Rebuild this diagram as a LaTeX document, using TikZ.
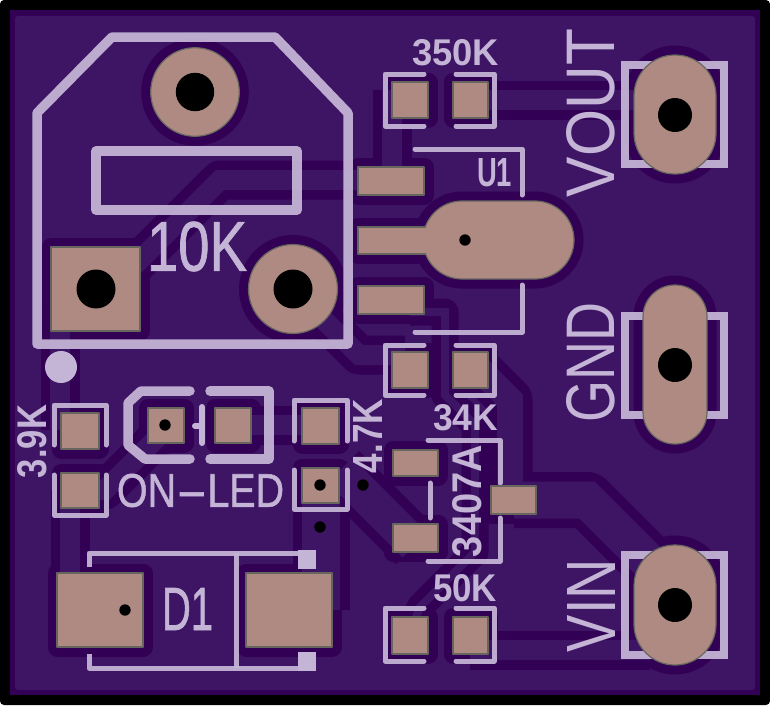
\documentclass[tikz,border=0pt]{standalone}
\usepackage{graphicx}
\usepackage{fontspec}
\setmainfont{Liberation Sans}
\newfontfamily\silkfat[FakeBold=1.2]{Liberation Sans}
\definecolor{dark}{HTML}{320055}
\definecolor{pour}{HTML}{3E1464}
\definecolor{silk}{HTML}{C4B5D6}
\definecolor{padc}{HTML}{AF8A82}
\definecolor{padb}{HTML}{66665F}
\tikzset{
  silkline/.style={draw=silk,line width=5,line cap=round,line join=round,opacity=.94},
  silkthick/.style={draw=silk,line width=9.5,line cap=round,line join=round,opacity=.94},
  silktext/.style={text=silk,inner sep=0pt,outer sep=0pt},
  holemark/.style={fill=black,draw=none},
  padlook/.style={draw=dark,fill=dark,line width=19,line join=round}
}
% a trace: clearance band first, copper afterwards
\newcommand{\tracepath}[2]{\draw[dark,line width=#1+19,line join=round] #2;}
\newcommand{\tracefill}[2]{\draw[pour,line width=#1] #2;}
\newcommand{\alltraces}[1]{%
  #1{20}{(360,180)--(220,180)--(105,295)}
  #1{20}{(60,300)--(60,430)}
  #1{20}{(70,490)--(70,600)}
  #1{20}{(170,425)--(105,490)--(80,490)}
  #1{20}{(240,425)--(320,425)}
  #1{38}{(321,490)--(321,610)}
  #1{35}{(340,470)--(415,545)}
  #1{20}{(293,289)--(359,355)--(405,355)}
  #1{8}{(410,312)--(445,312)--(445,395)--(475,425)--(475,552)--(420,607)--(415,620)}
  #1{20}{(392,90)--(392,175)}
  #1{26}{(470,360)--(510,400)--(510,490)}
  #1{37}{(514,500)--(587,500)--(672,585)}
  #1{20}{(470,650)--(650,650)}
  #1{20}{(470,100)--(650,100)}
}
\newcommand{\padr}[4]{\path[padlook] (#1,#2) rectangle (#3,#4);}
\newcommand{\padround}[3]{\path[padlook] (#1,#2) circle[radius=#3];}
\newcommand{\padlong}[5]{\path[padlook,rounded corners=#5] (#1,#2) rectangle (#3,#4);}
\newcommand{\allpads}{%
  \padround{195}{92}{44.3}
  \padround{293}{289}{44.5}
  \padr{51}{247}{140}{331}
  % U1
  \padr{358}{167}{424}{195}
  \padr{358}{286}{424}{314}
  \padr{358}{227}{430}{254}
  \padlong{423}{201}{574}{279}{39}
  % headers
  \padlong{634}{55}{716}{174}{40.9}
  \padlong{643}{285}{707}{444}{31.9}
  \padlong{634}{545}{716}{665}{40.9}
  % resistors right column
  \padr{392}{82}{428}{118}
  \padr{453}{82}{488}{118}
  \padr{392}{352}{428}{388}
  \padr{453}{352}{488}{388}
  \padr{392}{617}{428}{654}
  \padr{453}{617}{488}{654}
  % 3.9K
  \padr{61}{413}{99}{449}
  \padr{61}{473}{99}{508}
  % LED
  \padr{148}{408}{184}{443}
  \padr{215}{408}{251}{443}
  % 4.7K
  \padr{302}{408}{339}{444}
  \padr{302}{468}{339}{503}
  % D1
  \padr{57}{573}{143}{647}
  \padr{246}{573}{332}{647}
  % 3407A
  \padr{393}{450}{438}{476}
  \padr{393}{524}{438}{552}
  \padr{491}{486}{536}{514}
}
\newcommand{\stxt}[7]{\node[silktext,rotate=#6] (#1) at (#2,#3) {\resizebox{#4pt}{#5pt}{#7}};}
\begin{document}
\begin{tikzpicture}[x=1pt,y=-1pt]
\useasboundingbox (0,0) rectangle (770,705);
\fill[white] (0,0) rectangle (770,705);
\fill[black,rounded corners=4] (0,0) rectangle (770,705);
\fill[dark] (10,10) rectangle (760,695);
\fill[pour,rounded corners=3] (15,16) rectangle (755,690);
% clearances
\alltraces{\tracepath}
\allpads
% copper traces
\alltraces{\tracefill}
% silkscreen
\draw[silkthick] (37,113)--(112,37)--(275,37)--(348,113)--(348,344)--(37,344)--cycle;
\draw[silkthick] (96,151) rectangle (297,210);
\fill[silk] (61,367) circle[radius=16];
\draw[silkline] (415,149)--(522,149)--(522,195);
\draw[silkline] (522,285)--(522,332)--(415,332);
% resistor brackets
\draw[silkline] (424,74)--(385,74)--(385,126)--(424,126);
\draw[silkline] (456,74)--(494,74)--(494,126)--(456,126);
\draw[silkline] (424,345)--(385,345)--(385,395)--(424,395);
\draw[silkline] (456,345)--(494,345)--(494,395)--(456,395);
\draw[silkline] (424,608)--(385,608)--(385,661)--(424,661);
\draw[silkline] (456,608)--(494,608)--(494,661)--(456,661);
% header squares
\draw[silk,line width=8,opacity=.94] (625,65) rectangle (724,164);
\draw[silk,line width=8,opacity=.94] (625,316) rectangle (724,415);
\draw[silk,line width=8,opacity=.94] (625,555) rectangle (724,655);
% 3.9K and 4.7K brackets
\draw[silkline] (54,445)--(54,405)--(106,405)--(106,445);
\draw[silkline] (54,475)--(54,515)--(106,515)--(106,475);
\draw[silkline] (294,441)--(294,400)--(347,400)--(347,441);
\draw[silkline] (294,470)--(294,509)--(347,509)--(347,470);
% LED
\draw[silkthick] (190,391)--(141,391)--(128,403)--(128,445)--(145,459)--(190,459);
\draw[silkthick] (210,391)--(269,391)--(269,459)--(210,459);
\draw[silk,line width=6,line cap=round] (202,407)--(202,443);
\draw[silk,line width=6,line cap=round] (195,426)--(202,426);
% D1
\draw[silkline,line cap=butt] (89,567)--(89,553)--(316,553);
\draw[silkline,line cap=butt] (89,654)--(89,668)--(316,668);
\draw[silkline,line cap=butt] (236,553)--(236,668);
\fill[silk] (298,550) rectangle (316,569);
\fill[silk] (298,652) rectangle (316,671);
% 3407A
\draw[silkline] (428,440)--(500,440)--(500,483);
\draw[silkline] (500,518)--(500,561)--(428,561);
\draw[silkline] (430,483)--(430,518);
% pads on top
\tikzset{padlook/.style={draw=padb,fill=padc,line width=1.2,line join=round}}
\allpads
\fill[padc] (405,228) rectangle (445,253);
% holes
\fill[holemark] (195,92) circle[radius=19.2];
\fill[holemark] (293,289) circle[radius=19.5];
\fill[holemark] (96,289) circle[radius=19.5];
\fill[holemark] (675,115) circle[radius=17];
\fill[holemark] (675,365) circle[radius=17];
\fill[holemark] (675,605) circle[radius=17];
\fill[holemark] (465,240) circle[radius=5.7];
\fill[holemark] (165,425) circle[radius=5.7];
\fill[holemark] (320,485) circle[radius=5.7];
\fill[holemark] (363,485) circle[radius=5.7];
\fill[holemark] (320,527) circle[radius=5.7];
\fill[holemark] (125,610) circle[radius=5.7];
% labels
\stxt{lpot}{197}{246.5}{100}{49}{0}{\silkfat 10K}
\stxt{lvout}{591}{113}{168}{48}{90}{VOUT}
\stxt{lgnd}{591}{362.5}{120}{48}{90}{GND}
\stxt{lvin}{591}{605.5}{93}{48}{90}{VIN}
\stxt{lic}{467.5}{501}{112}{29}{90}{\bfseries 3407A}
\stxt{lrthree}{32.5}{441.5}{73}{29}{90}{\bfseries 3.9K}
\stxt{lrfour}{367.5}{436}{74}{29}{90}{\bfseries 4.7K}
\stxt{lrtop}{455.5}{53}{87}{26}{0}{\bfseries 350K}
\stxt{lrmid}{465.5}{418}{65}{26}{0}{\bfseries 34K}
\stxt{lrbot}{465}{588.5}{64}{27}{0}{\bfseries 50K}
\stxt{lu}{494.5}{173}{35}{28}{0}{\bfseries U1}
\stxt{ld}{187.5}{609}{51}{42}{0}{\silkfat D1}
\stxt{lled}{200.5}{490.5}{167}{33}{0}{\silkfat ON\scalebox{2.4}[1]{-}LED}
\end{tikzpicture}
\end{document}
